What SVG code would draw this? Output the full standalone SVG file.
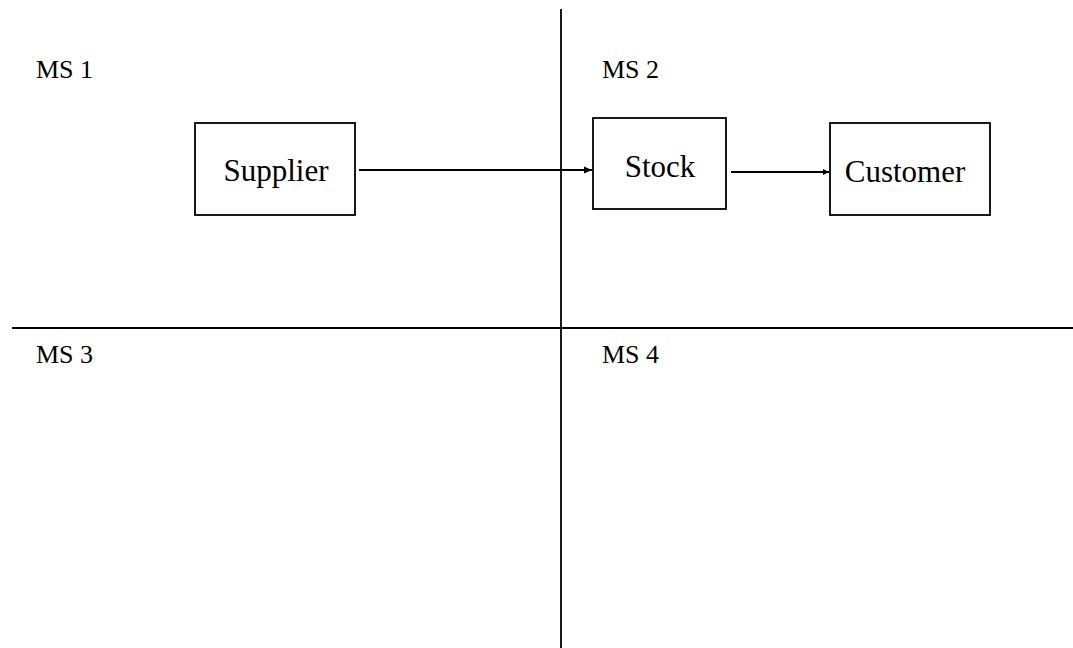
<svg xmlns="http://www.w3.org/2000/svg" width="1073" height="648" viewBox="0 0 1073 648">
<style>
.box{fill:#fff;stroke:#000;stroke-width:1.8}
.t{font-family:"Liberation Serif","Times New Roman",serif;font-size:26px;fill:#000}
.n{font-family:"Liberation Serif","Times New Roman",serif;font-size:31px;fill:#000;text-anchor:middle}
.ln{stroke:#000;stroke-width:1.8;fill:none}
</style>
<defs>
<marker id="ah" markerWidth="10" markerHeight="10" refX="8" refY="5" orient="auto" markerUnits="userSpaceOnUse">
<path d="M0,1.5 L8,5 L0,8.5 z" fill="#000"/>
</marker>
<marker id="ah2" markerWidth="8" markerHeight="8" refX="6" refY="4" orient="auto" markerUnits="userSpaceOnUse">
<path d="M0,1 L6,4 L0,7 z" fill="#000"/>
</marker>
</defs>
<rect width="1073" height="648" fill="#fff"/>
<g id="grid">
<line class="ln" x1="561" y1="9" x2="561" y2="648"/>
<line class="ln" x1="12" y1="328" x2="1073" y2="328" stroke-width="2.2"/>
</g>
<g id="labels">
<text class="t" x="36" y="78">MS 1</text>
<text class="t" x="602" y="78">MS 2</text>
<text class="t" x="36" y="363">MS 3</text>
<text class="t" x="602" y="363">MS 4</text>
</g>
<g id="supplier">
<rect class="box" x="195" y="123" width="160" height="92"/>
<text class="n" x="276" y="181">Supplier</text>
</g>
<g id="stock">
<rect class="box" x="593" y="118" width="133" height="91"/>
<text class="n" x="660" y="177">Stock</text>
</g>
<g id="customer">
<rect class="box" x="830" y="123" width="160" height="92"/>
<text class="n" x="905" y="182">Customer</text>
</g>
<g id="connectors">
<line class="ln" x1="359" y1="170" x2="592" y2="170" marker-end="url(#ah)"/>
<line class="ln" x1="731" y1="172" x2="829" y2="172" marker-end="url(#ah2)"/>
</g>
</svg>
